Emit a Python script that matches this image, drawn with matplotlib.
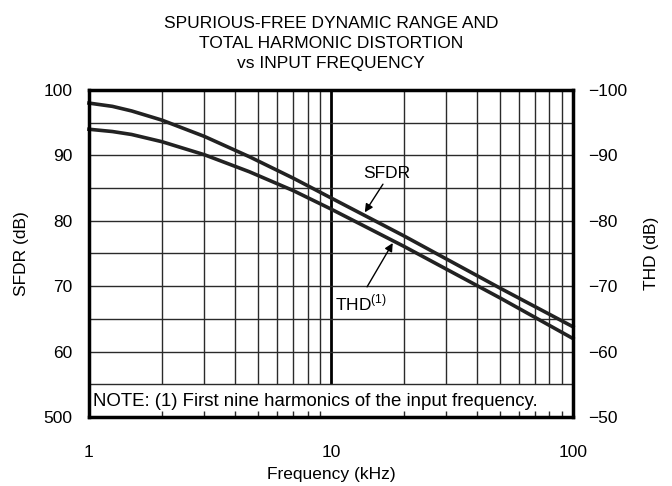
import matplotlib
matplotlib.use("Agg")
import matplotlib.pyplot as plt

plt.rcParams['font.family'] = ['Liberation Sans', 'DejaVu Sans']
plt.rcParams['mathtext.fontset'] = 'custom'
plt.rcParams['mathtext.rm'] = 'Liberation Sans'

# values
freq_khz = [1, 1.25, 1.5, 2, 3, 4.6, 7, 10, 20, 50, 100]
sfdr_db = [98.0, 97.5, 96.8, 95.4, 92.9, 89.8, 86.5, 83.5, 77.7, 69.7, 63.8]
thd_db = [94.0, 93.65, 93.2, 92.1, 90.1, 87.5, 84.6, 81.8, 76.1, 68.2, 62.0]

x_ticks = [1, 10, 100]
x_ticklabels = ["1", "10", "100"]
left_ticks = [50, 60, 70, 80, 90, 100]
left_ticklabels = ["500", "60", "70", "80", "90", "100"]
right_ticks = [-50, -60, -70, -80, -90, -100]
right_ticklabels = ["\u221250", "\u221260", "\u221270", "\u221280", "\u221290", "\u2212100"]

minor_x = [m * d for d in (1, 10) for m in range(2, 10)]
grid_y = [55, 60, 65, 70, 75, 80, 85, 90, 95]

fs = 12.5

fig = plt.figure(figsize=(6.72, 4.86), dpi=100)
ax = fig.add_axes([0.1324, 0.142, 0.7202, 0.6728])
ax.set_xscale('log')
ax.set_xlim(1, 100)
ax.set_ylim(50, 100)

gc = '#2a2a2a'
ax.vlines(minor_x, 55, 100, colors=gc, linewidth=1.0, zorder=1)
ax.vlines([10], 55, 100, colors='black', linewidth=2.0, zorder=1)
ax.hlines(grid_y, 1, 100, colors=gc, linewidth=1.0, zorder=1)

ax.plot(freq_khz, sfdr_db, color='#222222', linewidth=2.6, zorder=3, clip_on=False)
ax.plot(freq_khz, thd_db, color='#222222', linewidth=2.6, zorder=3, clip_on=False)

ax.text(1.04, 52.3, "NOTE: (1) First nine harmonics of the input frequency.",
        fontsize=13.4, va='center', ha='left', zorder=4)

ax.annotate("", xy=(13.8, 81.3), xytext=(16.4, 85.6),
            arrowprops=dict(arrowstyle='-|>', color='black', lw=1.0,
                            mutation_scale=12, shrinkA=0, shrinkB=0), zorder=4)
ax.text(17.0, 87.3, "SFDR", fontsize=fs, ha='center', va='center', zorder=4)
ax.annotate("", xy=(18.0, 76.6), xytext=(14.1, 69.9),
            arrowprops=dict(arrowstyle='-|>', color='black', lw=1.0,
                            mutation_scale=12, shrinkA=0, shrinkB=0), zorder=4)
ax.text(10.4, 67.4, "THD$^{\\mathrm{(1)}}$", fontsize=fs, ha='left', va='center', zorder=4)

for s in ax.spines.values():
    s.set_linewidth(2.5)
    s.set_zorder(5)

ax.set_xticks(x_ticks)
ax.set_xticklabels(x_ticklabels)
ax.set_xticks(minor_x + [10], minor=True)
ax.xaxis.set_minor_formatter(matplotlib.ticker.NullFormatter())
ax.tick_params(axis='x', which='major', length=0, pad=20, labelsize=fs)
ax.tick_params(axis='x', which='minor', direction='in', length=4, width=1.0, color=gc)
ax.set_yticks(left_ticks)
ax.set_yticklabels(left_ticklabels)
ax.tick_params(axis='y', length=0, pad=12, labelsize=fs)

ax.set_xlabel("Frequency (kHz)", fontsize=fs, labelpad=5)
ax.set_ylabel("SFDR (dB)", fontsize=fs, labelpad=10)

ax2 = ax.twinx()
ax2.set_ylim(-50, -100)
ax2.set_yticks(right_ticks)
ax2.set_yticklabels(right_ticklabels)
ax2.tick_params(axis='y', length=0, pad=11, labelsize=fs)
ax2.set_ylabel("THD (dB)", fontsize=fs, labelpad=12)
for s in ax2.spines.values():
    s.set_visible(False)

fig.text(0.4926, 0.9105, "SPURIOUS-FREE DYNAMIC RANGE AND\nTOTAL HARMONIC DISTORTION\nvs INPUT FREQUENCY",
         ha='center', va='center', fontsize=fs, linespacing=1.45)

fig.savefig("out.png", dpi=100)
